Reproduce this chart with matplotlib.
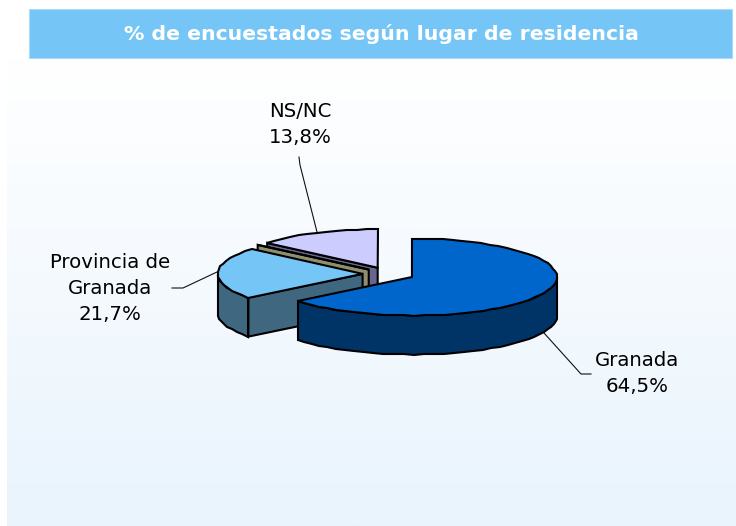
import numpy as np
import matplotlib
matplotlib.use("Agg")
import matplotlib.pyplot as plt
from matplotlib.patches import Polygon, Rectangle

# datos (la porcion sin etiqueta es casi cero)
etiquetas = ["Granada", "Provincia de\nGranada", "", "NS/NC"]
valores = [64.5, 21.7, 0.1, 13.8]
textos = ["64,5%", "21,7%", "", "13,8%"]
col_sup = ["#0066cc", "#75c5f6", "#ffffcc", "#ccccff"]
col_lado = ["#003366", "#3f6880", "#8f8f70", "#66668f"]

titulo = "% de encuestados según lugar de residencia"

# geometria de la tarta en pixeles
cx, cy = 388.6, 274
rx, ry = 145, 38.5
alto = 39
explosion = 26


def punto(t, c):
    # t en grados, horario desde las 12
    r = np.radians(t)
    return c[0] + rx * np.sin(r), c[1] - ry * np.cos(r)


def arco(t0, t1, c):
    # redondeo a pixel: el original tiene el borde dentado
    n = max(int(abs(t1 - t0) / 4), 1)
    ts = np.linspace(t0, t1, n + 1)
    return [tuple(np.round(punto(t, c)) + 0.0) for t in ts]


def cara(pts, color):
    ax.add_patch(Polygon(pts, closed=True, fc=color, ec="black", lw=1.5, joinstyle="miter"))


fig = plt.figure(figsize=(7.36, 5.26), dpi=100)
ax = fig.add_axes([0, 0, 1, 1])
ax.set_xlim(0, 736)
ax.set_ylim(526, 0)
ax.axis("off")

# fondo degradado
grad = np.linspace(0, 1, 256).reshape(-1, 1)
cmap = matplotlib.colors.LinearSegmentedColormap.from_list("fondo", ["#ffffff", "#e9f4fd"])
ax.imshow(grad, cmap=cmap, extent=(7, 736, 526, 58), aspect="auto", zorder=0)
ax.set_xlim(0, 736)
ax.set_ylim(526, 0)

# titulo
ax.add_patch(Rectangle((29, 9), 703, 49, fc="#75c5f6", ec="#a8dafa", lw=0.8))
ax.text(381, 34, titulo, color="white", fontsize=14.65, fontweight="bold", ha="center", va="center")

# angulos a partir de los valores
total = sum(valores)
ini = np.cumsum([0] + valores[:-1]) / total * 360
fin = np.cumsum(valores) / total * 360

# lineas de las etiquetas
for xs, ys in [([299, 300, 317], [157, 165, 232]),
               ([172, 183, 217], [288, 288, 272]),
               ([544, 581, 591], [333, 374, 374])]:
    ax.plot(xs, ys, color="#111111", lw=0.8, zorder=1)

# de atras hacia delante
for i in [3, 2, 1, 0]:
    m = np.radians((ini[i] + fin[i]) / 2)
    c = (cx + explosion * np.sin(m), cy - explosion * ry / rx * np.cos(m))
    baja = lambda pts: [(x, y + alto) for x, y in pts][::-1]

    # cara radial izquierda/delantera
    if i != 0:
        radial = [c, punto(ini[i], c)]
        cara(radial + baja(radial), col_lado[i])
    # borde exterior visible (parte delantera del arco)
    a0 = max(ini[i], 90)
    a1 = min(fin[i], 270)
    if a1 > a0:
        borde = arco(a0, a1, c)
        cara(borde + baja(borde), col_lado[i])
    # tapa
    cara([c] + arco(ini[i], fin[i], c), col_sup[i])

# etiquetas
for txt, x, y in [(etiquetas[3] + "\n" + textos[3], 300, 124.5),
                  (etiquetas[1] + "\n" + textos[1], 110, 288.5),
                  (etiquetas[0] + "\n" + textos[0], 637, 373.5)]:
    ax.text(x, y, txt, fontsize=14.2, color="black", ha="center", va="center", linespacing=1.5)

fig.savefig("out.png", dpi=100)
